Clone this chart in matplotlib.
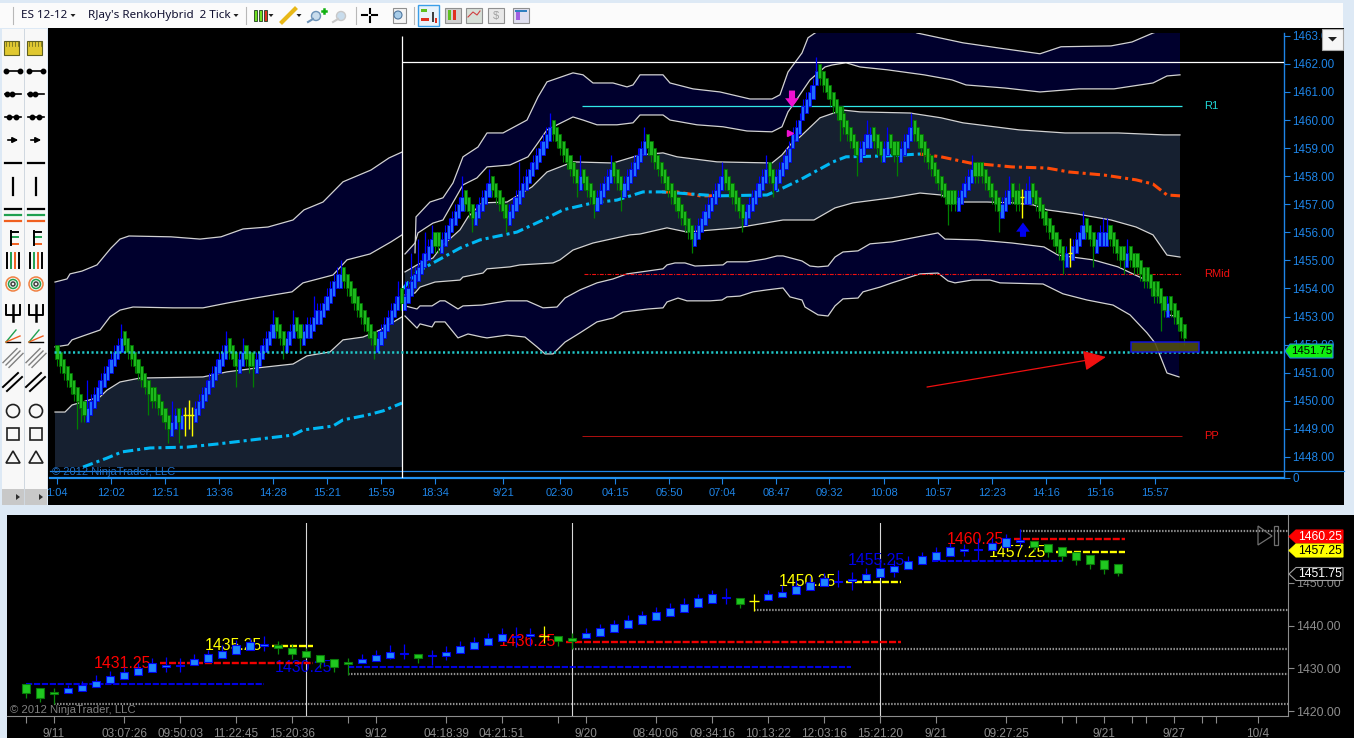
import matplotlib
matplotlib.use("Agg")
import matplotlib.pyplot as plt
from matplotlib.patches import Rectangle, Polygon, Circle
import numpy as np

# ---------- main chart data (renko-hybrid closes, one per bar) ----------
closes = [
 1451.5,1451.25,1451,1450.75,1450.5,1450.25,1450,1449.75,1449.5,
 1449.75,1450,1450.25,1450.5,1450.75,1451,1451.25,1451.5,1451.75,1452,1452.25,
 1452,1451.75,1451.5,1451.25,1451,1450.75,1450.5,1450.25,1450,1450,1449.75,1449.5,1449.25,1449,
 1449.25,1449.5,1449.25,1449.5,1449.5,1449.5,1449.5,
 1449.75,1450,1450.25,1450.5,1450.75,1451,1451.25,1451.5,1451.75,1452,
 1451.75,1451.5,1451.25,1451.5,1451.75,1451.5,1451.25,1451.25,
 1451.5,1451.75,1452,1452.25,1452.5,1452.75,1452.5,1452.25,1452,
 1452.25,1452.5,1452.75,1452.5,1452.25,
 1452.5,1452.75,1452.75,1453,1453.25,1453.25,1453.5,1453.75,1454,1454.25,1454.5,1454.5,
 1454.25,1454,1453.75,1453.5,1453.25,1453,1452.75,1452.5,1452.25,1452,
 1452.25,1452.5,1452.75,1453,1453.25,1453.5,1453.75,1453.5,
 1453.75,1454,1454.25,1454.5,1454.75,1455,1455.25,1455.5,1455.75,1455.5,1455.5,
 1455.75,1456,1456.25,1456.5,1456.75,1457,1457.25,1457,1456.75,1456.5,
 1456.75,1457,1457.25,1457.5,1457.75,1457.5,1457.25,1457,1456.75,1456.5,
 1456.75,1457,1457.25,1457.5,1457.75,1458,1458.25,1458.5,1458.75,1459,1459.25,1459.5,1459.75,
 1459.5,1459.25,1459,1458.75,1458.5,1458.25,1458,1457.75,1458,
 1457.75,1457.5,1457.25,1457,1457.25,1457.5,1457.75,1458,1458.25,1458,1457.75,1457.5,
 1457.75,1458,1458.25,1458.5,1458.75,1459,1459.25,
 1459,1458.75,1458.5,1458.25,1458,1457.75,1457.5,1457.25,1457,1456.75,1456.5,1456.25,1456,1455.75,
 1456,1456.25,1456.5,1456.75,1457,1457.25,1457.5,1457.75,1458,
 1457.75,1457.5,1457.25,1457,1456.75,1456.5,
 1456.75,1457,1457.25,1457.5,1457.75,1458,1458.25,1458,1457.75,
 1458,1458.25,1458.5,1458.75,1459,1459.5,1459.75,1460,1460.5,1460.75,1461,1461.25,1461.75,
 1461.5,1461.25,1461,1460.75,1460.5,1460.25,1460,1459.75,1459.5,1459.25,1459,1458.75,
 1459,1459.25,1459.5,1459.5,1459.25,1459,1458.75,1459,1459.25,1459,1458.75,1458.75,
 1459,1459.25,1459.5,1459.75,
 1459.5,1459.25,1459,1458.75,1458.5,1458.25,1458,1457.75,1457.5,1457.25,1457,1457,1457,
 1457.25,1457.5,1457.75,1458,1458.25,
 1458,1458,1458,1457.75,1457.5,1457.25,1457,1456.75,
 1457,1457.25,1457.5,1457.25,1457,1457,1457.25,1457.5,1457.5,
 1457.25,1457,1456.75,1456.5,1456.25,1456,1455.75,1455.5,1455.25,1455,
 1455.25,1455.25,1455.5,1455.75,1456,1456.25,1456,1455.75,1455.5,
 1455.75,1456,1456,1456,1455.75,1455.5,1455.25,1455,1455,1455.25,
 1455,1454.75,1454.75,1454.5,1454.25,1454.25,1454,1453.75,1453.75,1453.5,1453.25,
 1453.5,1453.25,1453,1452.75,1452.5,1452.25,
]
up_wick_bar = [9,19,34,50,55,64,70,76,84,101,103,105,107,109,111,120,128,137,146,155,164,174,197,210,225,240,246,253,271,282,288,304,310,311,317,329]
up_wick_price = [1450.75,1452.75,1450,1452.5,1452.25,1453.25,1453.25,1453.75,1455,1454.25,1454.25,1455.25,1455.75,1456,1456.25,1458,1458.25,1458.5,1460.25,1458.75,1458.75,1459.75,1458.5,1458.75,1462.25,1460,1459.75,1460.25,1458.75,1458,1458,1456.75,1456.5,1456.5,1455.75,1453.75]
down_low_bar = [6,7,27,33,36,53,58,67,72,94,102,123,133,154,159,167,188,203,212,232,237,249,264,279,298,307,316,327]
down_low_price = [1449,1449.25,1449.5,1448.5,1448.5,1450.5,1450.5,1451.5,1451.75,1451.5,1453.25,1456,1456,1457.25,1456.5,1456.75,1455.25,1456,1457.25,1459.25,1458,1458,1456.25,1456,1454.5,1454.75,1454.5,1452.5]
down_high_bar = [28,233,274,285,323]
down_high_price = [1450.5,1460.5,1458.5,1457.75,1454.75]
doji_bar = [38,39,40,286,300]
doji_high = [1449.78,1450.03,1449.78,1457.55,1455.8]
doji_low = [1448.75,1449.0,1448.75,1456.5,1454.75]

# session 1 bands
s1a_x = [55,67,70,82,97,107,111,120,129,171,200,221,243,268,293,304,323,343,371,389,402]
s1a_y = [1454.23,1454.34,1454.52,1454.62,1454.84,1455.27,1455.44,1455.76,1455.87,1455.84,1455.76,1455.84,1456.12,1456.19,1456.44,1456.80,1457.08,1457.80,1458.22,1458.65,1458.86]
s1b_x = [55,68,72,83,100,110,120,133,173,203,227,250,292,303,333,347,370,391,402]
s1b_y = [1451.92,1451.99,1452.17,1452.31,1452.52,1452.99,1453.23,1453.34,1453.31,1453.31,1453.48,1453.63,1453.88,1454.20,1454.48,1455.02,1455.23,1455.66,1455.91]
s1c_x = [55,65,72,100,107,120,140,203,227,257,293,307,330,343,363,380,402]
s1c_y = [1449.60,1449.60,1449.85,1450.14,1450.38,1450.67,1450.81,1450.85,1451.03,1451.17,1451.31,1451.60,1451.74,1452.17,1452.27,1452.52,1452.99]
s1_floor = 1447.64
s1v_x = [83,107,122,150,187,217,267,293,303,333,343,367,383,402]
s1v_y = [1447.64,1447.96,1448.18,1448.32,1448.35,1448.46,1448.67,1448.78,1448.96,1449.10,1449.32,1449.49,1449.64,1449.92]

# session 2 bands
a_x = [415,416,430,443,453,463,478,487,503,527,538,547,573,583,593,613,627,633,640,663,670,693,720,750,772,780,788,802,808,815,830,900,917,963,998,1040,1061,1111,1132,1153,1180]
a_y = [1455.27,1456.55,1457.08,1457.23,1457.76,1458.69,1459.04,1459.54,1459.54,1460.00,1460.82,1461.36,1461.68,1461.61,1461.32,1461.32,1461.18,1461.25,1461.61,1461.61,1461.32,1461.11,1461.00,1460.75,1460.75,1460.90,1461.71,1462.39,1462.93,1463.10,1463.39,1463.39,1463.10,1462.75,1462.57,1462.36,1462.61,1462.64,1462.78,1463.10,1463.39]
b_x = [405,415,418,433,443,463,477,487,510,528,538,547,573,583,597,617,633,640,663,670,697,723,747,772,782,788,793,810,825,832,846,860,887,924,952,966,1005,1040,1079,1114,1153,1167,1180]
b_y = [1455.23,1455.62,1455.98,1456.33,1456.44,1457.69,1457.94,1458.33,1458.40,1458.69,1459.19,1459.65,1460.11,1460.00,1459.83,1459.83,1459.90,1460.18,1460.18,1460.00,1459.83,1459.76,1459.61,1459.58,1459.76,1460.29,1460.54,1461.43,1461.89,1461.96,1462.04,1461.89,1461.79,1461.61,1461.43,1461.25,1461.14,1461.00,1461.11,1461.11,1461.32,1461.57,1461.61]
c_x = [405,417,433,443,460,468,482,507,532,547,573,613,640,663,677,717,772,782,792,800,820,837,842,860,910,941,963,1019,1065,1118,1164,1180]
c_y = [1454.59,1454.84,1455.09,1455.55,1456.09,1456.55,1457.05,1457.08,1457.62,1458.15,1458.51,1458.47,1458.76,1458.83,1458.69,1458.51,1458.47,1458.76,1459.19,1459.40,1460.08,1460.29,1460.36,1460.29,1460.25,1460.08,1459.90,1459.65,1459.54,1459.54,1459.47,1459.47]
d_x = [405,415,420,435,460,463,483,487,510,520,553,560,573,593,607,630,640,667,687,737,783,814,835,853,892,920,941,955,987,1012,1033,1047,1076,1111,1136,1153,1167,1180]
d_y = [1453.77,1453.84,1454.05,1454.23,1454.30,1454.41,1454.55,1454.70,1454.77,1454.84,1454.91,1455.02,1455.37,1455.62,1455.73,1455.91,1455.94,1456.16,1456.01,1456.16,1456.44,1456.44,1456.87,1457.05,1457.23,1457.40,1457.33,1457.08,1457.08,1457.05,1456.98,1456.80,1456.66,1456.44,1456.19,1455.91,1455.19,1455.12]
e_x = [405,417,420,432,440,445,458,463,482,507,527,543,557,565,580,597,613,627,647,663,667,675,685,695,723,727,747,765,777,783,802,810,818,828,835,843,858,870,892,938,945,977,1012,1044,1058,1093,1118,1152,1163,1168,1179]
e_y = [1453.38,1453.27,1453.38,1453.38,1453.56,1453.56,1453.27,1453.38,1453.41,1453.56,1453.56,1453.31,1453.34,1453.66,1453.95,1454.20,1454.34,1454.52,1454.62,1454.70,1454.84,1454.91,1454.91,1454.80,1454.84,1454.95,1454.95,1455.05,1455.16,1455.16,1454.98,1454.80,1454.77,1454.80,1455.12,1455.30,1455.34,1455.59,1455.66,1455.98,1455.76,1455.73,1455.62,1455.48,1455.19,1455.02,1454.77,1454.20,1453.48,1453.06,1452.99]
f_x = [405,417,420,432,435,445,458,468,482,487,507,525,537,545,553,565,580,597,613,623,648,663,667,678,687,710,722,727,740,753,767,783,790,802,805,818,828,835,843,858,863,880,892,920,938,948,955,972,990,1000,1043,1063,1087,1113,1130,1147,1155,1167,1179]
f_y = [1453.02,1452.59,1452.74,1452.63,1452.81,1452.81,1452.24,1452.38,1452.27,1452.24,1452.34,1452.27,1451.92,1451.67,1451.67,1452.09,1452.42,1452.81,1452.95,1453.16,1453.27,1453.31,1453.52,1453.66,1453.56,1453.56,1453.59,1453.70,1453.73,1453.88,1453.95,1454.02,1453.70,1453.59,1453.34,1453.06,1453.02,1453.38,1453.63,1453.66,1453.88,1454.05,1454.20,1454.52,1454.55,1454.27,1454.20,1454.30,1454.30,1454.20,1454.16,1453.81,1453.59,1453.41,1453.06,1452.42,1452.06,1450.99,1450.85]
v_x = [402,417,433,460,480,517,543,563,593,617,643,662,717,767,783,800,833,846,885,920]
v_y = [1453.95,1454.59,1454.91,1455.44,1455.73,1456.01,1456.44,1456.80,1457.05,1457.15,1457.44,1457.44,1457.30,1457.33,1457.58,1457.87,1458.51,1458.69,1458.72,1458.79]
o1_x = [662,677,700,716]
o1_y = [1457.44,1457.44,1457.30,1457.30]
o2_x = [920,941,970,1012,1047,1069,1104,1136,1153,1167,1180]
o2_y = [1458.79,1458.69,1458.47,1458.33,1458.29,1458.15,1458.04,1457.87,1457.72,1457.33,1457.30]

main_ticks = [57,111,165,219,273,327,381,435,503,560,615,669,722,776,829,884,938,992,1046,1100,1155]
main_labels = ["1:04","12:02","12:51","13:36","14:28","15:21","15:59","18:34","9/21","02:30","04:15","05:50","07:04","08:47","09:32","10:08","10:57","12:23","14:16","15:16","15:57"]
price_ticks = list(range(1448, 1464))
last_price = 1451.75
r1, rmid, pp = 1460.5, 1454.5, 1448.75
session_high = 1462.07

# ---------- lower chart data ----------
c_open = [1426.26,1425.32,1424.38,1424.15,1424.69,1425.55,1426.49,1427.43,1428.36,1429.15,1430.24,1430.47,1430.78,1431.41,1432.35,1433.28,1434.22,1435.31,1435.39,1434.85,1434.14,1433.13,1432.27,1431.41,1431.17,1431.64,1432.35,1433.28,1433.44,1432.82,1432.82,1433.52,1434.46,1435.39,1436.33,1437.27,1437.50,1437.81,1437.66,1437.03,
 1437.03,1437.50,1438.44,1439.38,1440.31,1441.25,1442.34,1443.28,1444.30,1445.23,1446.41,1446.41,1445.94,1445.94,1446.64,1447.34,1448.28,1449.37,1450.15,1450.39,1450.62,1451.32,1452.50,1453.20,1454.37,1455.31,1456.25,1457.42,1457.65,1457.65,1458.51,1459.60,1459.84,1459.06,1458.35,1457.34,1456.48,1455.31,1454.37]
c_close = [1424.30,1423.13,1423.91,1425.32,1426.10,1427.11,1428.29,1429.22,1430.00,1431.33,1430.71,1430.86,1432.19,1433.28,1434.14,1435.47,1436.25,1435.63,1434.69,1433.28,1432.58,1431.41,1430.24,1430.94,1432.27,1433.21,1433.91,1433.60,1432.35,1433.13,1433.91,1435.31,1436.25,1437.19,1438.13,1437.66,1437.97,1437.66,1436.33,1436.49,
 1438.20,1439.38,1440.31,1441.25,1442.50,1443.28,1444.22,1445.16,1446.41,1447.34,1446.72,1445.16,1445.78,1447.34,1447.97,1449.37,1450.31,1451.09,1450.54,1450.86,1452.18,1453.43,1453.90,1455.23,1456.25,1457.34,1458.35,1457.89,1457.96,1459.29,1460.46,1459.99,1458.51,1457.34,1456.40,1455.46,1454.37,1453.36,1452.42]
c_high = [1426.26,1425.32,1425.32,1426.10,1427.11,1428.44,1429.38,1430.40,1431.17,1432.35,1432.58,1432.35,1433.36,1434.30,1435.47,1436.64,1437.03,1437.58,1436.49,1435.63,1434.69,1433.13,1432.27,1432.35,1433.28,1434.30,1435.47,1435.63,1433.44,1434.30,1435.31,1436.41,1437.42,1438.36,1439.53,1439.77,1439.53,1439.92,1437.66,1438.20,
 1439.38,1440.39,1441.33,1442.50,1443.52,1444.45,1445.23,1446.41,1447.42,1448.28,1448.83,1446.41,1447.42,1448.36,1449.53,1450.70,1451.72,1452.26,1453.04,1452.65,1453.43,1454.84,1455.39,1456.40,1457.18,1458.35,1459.45,1459.06,1460.46,1460.46,1461.48,1462.65,1459.84,1459.06,1458.35,1457.34,1456.48,1455.31,1454.37]
c_low = [1423.13,1422.20,1421.57,1424.15,1424.69,1425.55,1426.49,1427.43,1428.36,1429.15,1429.22,1429.07,1430.78,1431.41,1432.35,1433.28,1434.22,1434.07,1433.28,1432.19,1432.35,1430.16,1429.22,1428.44,1431.17,1431.64,1432.11,1432.19,1431.33,1430.78,1432.03,1433.52,1434.46,1435.39,1436.33,1435.08,1435.31,1435.86,1435.31,1434.46,
 1437.03,1437.50,1438.44,1439.38,1440.31,1441.25,1442.34,1443.28,1444.30,1445.23,1445.16,1444.22,1443.44,1445.94,1446.64,1447.34,1448.28,1449.37,1449.14,1448.36,1450.62,1451.32,1451.48,1453.20,1454.37,1455.31,1456.25,1456.40,1455.39,1457.65,1458.51,1458.51,1457.50,1456.17,1455.15,1454.22,1453.28,1452.03,1451.64]
yellow_candles = [37, 52]

dotted_start = [2, 23, 39, 52, 71]
dotted_price = [1421.57, 1428.6, 1434.45, 1443.6, 1462.3]
blue_start, blue_end, blue_price = [0,23,64.7], [17,58.9,74], [1426.25,1430.25,1455.25]
red_start, red_end, red_price = [9.6,38.6,70.6], [20.5,62.5,78.5], [1431.25,1436.25,1460.25]
yel_start, yel_end, yel_price = [17.6,58.6,73.6], [20.5,62.5,78.5], [1435.25,1450.25,1457.25]
label_text = ["1431.25","1435.25","1430.25","1436.25","1450.25","1455.25","1460.25","1457.25"]
label_at = [6.9,14.8,19.8,35.8,55.8,60.7,67.8,70.8]
label_colour = ["#ff0000","#ffff00","#0000e6","#ff0000","#ffff00","#0000e6","#ff0000","#ffff00"]
session_breaks = [20, 39, 61]
lower_ticks = [0,2,7,11,15,19,23,25,30,34,38,40,45,49,53,57,61,65,70,74,75,77,79,80,82,84,85,88]
lower_labels = ["","9/11","03:07:26","09:50:03","11:22:45","15:20:36","","9/12","04:18:39","04:21:51","","9/20","08:40:06","09:34:16","10:13:22","12:03:16","15:21:20","9/21","09:27:25","","","9/21","","","9/27","","","10/4"]
lower_price_ticks = [1420,1430,1440,1450]

# ---------- figure ----------
plt.rcParams['font.family'] = ['Liberation Sans', 'DejaVu Sans']
W, H = 1354, 738
fig = plt.figure(figsize=(W/100, H/100), dpi=100, facecolor='#dde9f5')

def box(x0, x1, y_top, y_bot):
    return [x0/W, 1-y_bot/H, (x1-x0)/W, (y_bot-y_top)/H]

ui = fig.add_axes([0,0,1,1], zorder=0); ui.set_xlim(0,W); ui.set_ylim(H,0); ui.axis('off')
top = fig.add_axes([0,0,1,1], zorder=5); top.set_xlim(0,W); top.set_ylim(H,0); top.axis('off'); top.patch.set_alpha(0)

def rect(a, x, y, w, h, fc, ec='none', lw=0.8, z=1, alpha=None):
    a.add_patch(Rectangle((x,y), w, h, fc=fc, ec=ec, lw=lw, zorder=z, alpha=alpha))

rect(ui, 0, 3, 1343, 25, '#fbfbfb')
rect(ui, 48, 28, 1296, 477, '#000000')
rect(ui, 7, 515, 1347, 223, '#000000')

# top toolbar
ui.text(21, 15.5, "ES 12-12", fontsize=8.4, color='#101030', va='center', family='Noto Sans')
ui.text(88, 15.5, "RJay's RenkoHybrid  2 Tick", fontsize=8.4, color='#101030', va='center', family='Noto Sans')
for ax_ in [73, 236, 271, 299, 397]:
    ui.add_patch(Polygon([(ax_-2.5,14),(ax_+2.5,14),(ax_,17)], fc='#202020'))
for sx in [13, 246, 356, 414]:
    ui.plot([sx,sx],[7,24], color='#b8b8b8', lw=0.8)
for sx, c_ in [(255,'#70e020'),(260,'#70e020'),(265,'#e03020')]:
    rect(ui, sx-1.5, 10, 3.5, 11, c_, '#204020', 0.6)
ui.plot([282,295],[22,9], color='#e8b818', lw=3)
for cx, c_ in [(316,'#6d93b8'),(341,'#c8c8c8')]:
    ui.add_patch(Circle((cx,16), 4.5, fc='#c8dcec', ec=c_, lw=1))
    ui.plot([cx-8,cx-3],[22,19], color=c_, lw=1.5)
ui.plot([322,326],[11,11], color='#10b010', lw=1.8); ui.plot([324,324],[9,13], color='#10b010', lw=1.8)
ui.plot([362,367],[15,15],[369.5,369.5],[9,13],[372,377],[15,15],[369.5,369.5],[17,22], color='#000000', lw=1.5)
rect(ui, 393, 8, 13, 15, '#f4f4f4', '#909090')
ui.add_patch(Circle((398,15), 4, fc='#a8cce8', ec='#5078a0', lw=0.8))
rect(ui, 418, 5, 21, 21, '#e8f2fa', '#3a9ee8', 1)
for (x_,y_,w_,c_) in [(421,9,6,'#60c020'),(421,18,8,'#e03020')]:
    rect(ui, x_, y_, w_, 3, c_, z=2)
rect(ui, 432, 12, 2, 10, '#404040', z=2); rect(ui, 435, 18, 2, 5, '#e03020', z=2)
for (x_,c_) in [(445,'#d0d0d0'),(466,'#d8e0d8'),(488,'#e8e8e8'),(513,'#e0e0f0')]:
    rect(ui, x_, 8, 16, 15, c_, '#909090', 0.8)
rect(ui, 448, 10, 3, 10, '#60c020', z=2); rect(ui, 453, 10, 3, 10, '#e03020', z=2)
ui.plot([468,473,477,480],[17,12,15,11], color='#d04040', lw=0.8, zorder=2)
ui.text(496, 16, "$", fontsize=8, color='#a0a0a0', ha='center', va='center')
rect(ui, 516, 12, 4, 8, '#a060e0', z=2); rect(ui, 515, 10, 12, 1.5, '#3080c0', z=2)

# drawing-tool side bars
for col in [2, 25]:
    rect(ui, col, 29, 22, 476, '#f8f8f8')
    rect(ui, col, 489, 22, 16, '#c8c8c8')
    cx = col + 11
    rect(ui, col+2, 41, 15, 14, '#e0c830', '#606020', 0.8, z=2)
    for tx in range(col+4, col+17, 3):
        ui.plot([tx,tx],[41,46], color='#606020', lw=0.5, zorder=3)
    for yy, kind in [(71,0),(94,1),(117,2)]:
        ui.plot([cx-8,cx+8],[yy,yy], color='k', lw=1.2, zorder=2)
        xs = {0:[cx-7,cx+7],1:[cx-6,cx-1],2:[cx-4,cx+3]}[kind]
        ui.plot(xs,[yy,yy],'o',color='k',ms=3.2,zorder=2)
    ui.annotate('', xy=(cx+8,140), xytext=(cx-8,140), arrowprops=dict(arrowstyle='-|>',color='k',lw=1.2,mutation_scale=8))
    ui.plot([cx-8,cx+8],[163,163], color='k', lw=1.6, zorder=2)
    ui.plot([cx,cx],[178,195], color='k', lw=1.6, zorder=2)
    for yy,c_ in [(209,'k'),(215,'#20a050'),(221,'#f06020')]:
        ui.plot([cx-8,cx+8],[yy,yy], color=c_, lw=1.6, zorder=2)
    for yy,c_ in [(232,'k'),(237,'#20a050'),(244,'#f06020')]:
        ui.plot([cx-2,cx+5],[yy,yy], color=c_, lw=1.4, zorder=2)
    ui.plot([cx-2,cx-2],[231,245], color='k', lw=1.4, zorder=2)
    for dx,c_ in [(-6,'k'),(-2,'#20a050'),(2,'#f06020'),(6,'k')]:
        ui.plot([cx+dx,cx+dx],[253,268], color=c_, lw=1.4, zorder=2)
    for r_,c_ in [(7,'#f08040'),(4.5,'#20a050'),(2,'#404040')]:
        ui.add_patch(Circle((cx,284), r_, fc='none', ec=c_, lw=1.1, zorder=2))
    ui.plot([cx-7,cx-7,cx+7,cx+7],[305,315,315,305], color='k', lw=1.4, zorder=2)
    ui.plot([cx,cx],[305,321], color='k', lw=1.8, zorder=2)
    ui.plot([cx-7,cx+7],[342,342], color='k', lw=1, zorder=2)
    ui.plot([cx-7,cx+3],[342,330], color='#20a050', lw=1, zorder=2)
    ui.plot([cx-7,cx+7],[342,336], color='#f06020', lw=1, zorder=2)
    for d in [-3,0,3]:
        ui.plot([cx-7+d,cx+7+d],[365+d*0.8,351+d*0.8], color='#808080', lw=1, zorder=2)
    for d in [-2,2]:
        ui.plot([cx-8+d,cx+7+d],[389+d,375+d], color='k', lw=1.4, zorder=2)
    ui.add_patch(Circle((cx,411), 6.5, fc='none', ec='#202020', lw=1.2, zorder=2))
    rect(ui, cx-6, 428, 12, 12, 'none', '#202020', 1.2, z=2)
    ui.add_patch(Polygon([(cx-7,463),(cx+7,463),(cx,451)], fc='none', ec='#202020', lw=1.2, zorder=2))
    ui.add_patch(Polygon([(cx+3,494),(cx+7,497),(cx+3,500)], fc='#303030', zorder=2))
rect(ui, 24, 29, 1, 476, '#d0d8e0')

# ---------- main price axes ----------
AXIS_BLUE = '#1e84e6'
ax = fig.add_axes(box(50, 1284, 33, 478), zorder=1, facecolor='none')
ax.set_xlim(50, 1284)
ax.set_ylim(1447.25, 1463.10)

NAVY, SLATE, LINE = '#00002d', '#162030', '#d2d2d2'
def band(xa, ya, xb, yb, col):
    ax.fill(list(xa)+list(xb)[::-1], list(ya)+list(yb)[::-1], color=col, lw=0, zorder=1)
band(s1a_x, s1a_y, s1b_x, s1b_y, NAVY)
band(s1c_x, s1c_y, [s1c_x[0], s1c_x[-1]], [s1_floor, s1_floor], SLATE)
band(a_x, a_y, b_x, b_y, NAVY)
band(c_x, c_y, d_x, d_y, SLATE)
band(e_x, e_y, f_x, f_y, NAVY)
for xs, ys in [(s1a_x,s1a_y),(s1b_x,s1b_y),(s1c_x,s1c_y),(a_x,a_y),(b_x,b_y),(c_x,c_y),(d_x,d_y),(e_x,e_y),(f_x,f_y)]:
    ax.plot(xs, ys, color=LINE, lw=0.9, zorder=2)

vwap_style = dict(lw=2.2, ls=(0,(3.4,1.3,1,1.3)), zorder=3)
ax.plot(o1_x, o1_y, color='#ff4a08', **vwap_style)
ax.plot(o2_x, o2_y, color='#ff4a08', **vwap_style)
ax.plot(s1v_x, s1v_y, color='#00b8f4', **vwap_style)
ax.plot(v_x, v_y, color='#00b8f4', **vwap_style)

ax.hlines(session_high, 402, 1284, color='white', lw=0.9, zorder=4)
ax.vlines(402, 1447.25, 1463.0, color='white', lw=0.9, zorder=6)
ax.hlines(r1, 582, 1182, color='#30e8e8', lw=0.9, zorder=4)
ax.hlines(rmid, 584, 1182, color='#f01010', lw=0.8, ls=(0,(3.5,1.2,1,1.2)), zorder=4)
ax.hlines(pp, 582, 1182, color='#b01010', lw=0.7, zorder=4)
ax.text(1204, r1, "R1", color='#20d8d8', fontsize=8, va='center')
ax.text(1204, rmid, "RMid", color='#f01010', fontsize=8, va='center')
ax.text(1204, pp, "PP", color='#f01010', fontsize=8, va='center')

# bars
step = 3.375
bar_x = 57 + step*np.arange(len(closes))
cl = np.array(closes, float)
direction = np.zeros(len(cl))
d_ = -1
for i in range(1, len(cl)):
    if cl[i] > cl[i-1]: d_ = 1
    elif cl[i] < cl[i-1]: d_ = -1
    direction[i] = d_
direction[0] = -1
is_up = direction > 0
is_doji = np.isin(np.arange(len(cl)), doji_bar)
body = 0.5
pad = 0.25
ups = is_up & ~is_doji
downs = ~is_up & ~is_doji
ax.vlines(bar_x[ups], cl[ups]-body, cl[ups]+pad, color='#0000ff', lw=0.8, zorder=5)
ax.vlines(bar_x[downs], cl[downs]-pad, cl[downs]+body, color='#008000', lw=0.8, zorder=5)
ub, dlb, dhb = np.array(up_wick_bar), np.array(down_low_bar), np.array(down_high_bar)
ax.vlines(bar_x[ub], cl[ub], up_wick_price, color='#0000ff', lw=0.9, zorder=5)
ax.vlines(bar_x[dlb], down_low_price, cl[dlb], color='#008000', lw=0.9, zorder=5)
ax.vlines(bar_x[dhb], cl[dhb], down_high_price, color='#008000', lw=0.9, zorder=5)
ax.bar(bar_x[ups], body, bottom=cl[ups]-body, width=3.2, color='#1e6eff', edgecolor='#0000e8', lw=0.6, zorder=6)
ax.bar(bar_x[downs], body, bottom=cl[downs], width=3.2, color='#1cb81c', edgecolor='#007000', lw=0.6, zorder=6)
db = np.array(doji_bar)
ax.vlines(bar_x[db], doji_low, doji_high, color='#ffff00', lw=1.0, zorder=7)
ax.hlines(cl[db], bar_x[db]-2, bar_x[db]+2, color='#ffff00', lw=1.0, zorder=7)

# last-price line, marked zone and drawing objects
ax.plot([54, 1284], [last_price, last_price], color='#20c8c8', lw=1.8, ls=(0,(0.85,1.0)), zorder=7)
ax.add_patch(Rectangle((1131, last_price), 68, 0.34, fc='#504c10', ec='#1010f0', lw=1.1, alpha=0.9, zorder=8))
ax.annotate('', xy=(1106, 1451.56), xytext=(927, 1450.49),
            arrowprops=dict(arrowstyle='-|>,head_width=0.45,head_length=1.0', color='#f01010', lw=0.9, mutation_scale=14, shrinkA=0, shrinkB=0), zorder=8)
ax.annotate('', xy=(792, 1460.45), xytext=(792, 1461.05),
            arrowprops=dict(arrowstyle='simple,head_width=0.9,tail_width=0.4,head_length=0.6', color='#f010d0', mutation_scale=11, shrinkA=0, shrinkB=0, lw=0), zorder=8)
ax.annotate('', xy=(1023, 1456.35), xytext=(1023, 1455.84),
            arrowprops=dict(arrowstyle='simple,head_width=0.9,tail_width=0.4,head_length=0.6', color='#0000f0', mutation_scale=11, shrinkA=0, shrinkB=0, lw=0), zorder=8)
ax.plot([789.5], [1459.55], marker='>', color='#f010d0', ms=4.5, zorder=8)

ax.set_xticks(main_ticks); ax.set_xticklabels(main_labels)
ax.set_yticks(price_ticks + [1447.25])
ax.set_yticklabels([f"{p:.2f}" for p in price_ticks] + ["0"])
ax.yaxis.tick_right()
ax.tick_params(axis='x', colors=AXIS_BLUE, length=4, width=0.8, labelsize=8.0, pad=3)
ax.tick_params(axis='y', colors=AXIS_BLUE, length=4.5, width=0.8, labelsize=8.4, pad=1.5)
for s_ in ['top','left']:
    ax.spines[s_].set_visible(False)
ax.spines['right'].set_color(AXIS_BLUE); ax.spines['right'].set_linewidth(1)
ax.spines['bottom'].set_color('#2090f0'); ax.spines['bottom'].set_linewidth(1.6)

ui.plot([50, 1344],[471,471], color=AXIS_BLUE, lw=0.9, zorder=3)
top.text(52, 472, "© 2012 NinjaTrader, LLC", color='#2070c8', fontsize=8, va='center', zorder=3)
top.add_patch(Polygon([(1285,351),(1290,344),(1333,344),(1333,358),(1290,358)], fc='#10f010', ec=AXIS_BLUE, lw=0.8, zorder=6))
top.text(1312, 351.5, f"{last_price:.2f}", color='k', fontsize=8.2, ha='center', va='center', zorder=7)
rect(top, 1322, 29, 21, 21, '#f6f6f6', '#a8a8a8', 0.8, z=8)
top.add_patch(Polygon([(1328,37),(1337,37),(1332.5,41.5)], fc='#202020', zorder=9))

# ---------- lower daily axes ----------
GREY = '#8c8c8c'
low = fig.add_axes(box(7, 1288, 523, 716), zorder=1, facecolor='none')
low.set_xlim(-1.357, 90.14)
low.set_ylim(1418.83, 1464.06)
idx = np.arange(len(c_open))
o_, c_, h_, l_ = map(lambda v: np.array(v, float), (c_open, c_close, c_high, c_low))

for s_, p_ in zip(dotted_start, dotted_price):
    low.plot([s_, 90.14], [p_, p_], color='#909090', lw=1.6, ls=(0,(0.68,0.68)), zorder=1)
for xb in session_breaks:
    low.axvline(xb, color='#d8d8d8', lw=0.8, zorder=1)
for t_, a_, p_, col_ in zip(label_text, label_at, [float(t) for t in label_text], label_colour):
    low.text(a_, p_, t_, color=col_, fontsize=11.4, ha='center', va='center', zorder=2)
for st, en, pr, col_, lw_ in [(blue_start,blue_end,blue_price,'#0000e0',1.5),(red_start,red_end,red_price,'#f00000',1.7),(yel_start,yel_end,yel_price,'#ffff00',1.7)]:
    for a_, b_, p_ in zip(st, en, pr):
        low.plot([a_, b_], [p_, p_], color=col_, lw=lw_, ls=(0,(3.0,0.8)), zorder=3)

yellow = np.isin(idx, yellow_candles)
up = (c_ >= o_) & ~yellow
down = (c_ < o_) & ~yellow
low.vlines(idx[up], l_[up], h_[up], color='#0000ff', lw=0.9, zorder=4)
low.vlines(idx[down], l_[down], h_[down], color='#0a8a0a', lw=0.9, zorder=4)
low.vlines(idx[yellow], l_[yellow], h_[yellow], color='#ffff00', lw=0.9, zorder=4)
low.bar(idx[up], (c_-o_)[up], bottom=o_[up], width=0.62, color='#1e88ff', edgecolor='#0000f0', lw=0.8, zorder=5)
low.bar(idx[down], (o_-c_)[down], bottom=c_[down], width=0.62, color='#20c820', edgecolor='#0a7a0a', lw=0.8, zorder=5)
low.hlines(c_[yellow], idx[yellow]-0.35, idx[yellow]+0.35, color='#ffff00', lw=1, zorder=5)

low.set_xticks(lower_ticks); low.set_xticklabels(lower_labels)
low.set_yticks(lower_price_ticks); low.set_yticklabels([f"{p:.2f}" for p in lower_price_ticks])
low.yaxis.tick_right()
low.tick_params(axis='x', colors=GREY, length=5, width=0.8, labelsize=8.5, pad=3.5)
low.tick_params(axis='y', colors=GREY, length=4, width=0.8, labelsize=8.9, pad=1.5)
for s_ in ['top','left']:
    low.spines[s_].set_visible(False)
low.spines['right'].set_color(GREY); low.spines['bottom'].set_color(GREY)
low.spines['right'].set_bounds(1418.83, 1466); low.spines['right'].set_clip_on(False)

top.text(10, 710, "© 2012 NinjaTrader, LLC", color='#808080', fontsize=8.2, va='center')
top.add_patch(Polygon([(1258,526),(1272,536),(1258,545)], fc='none', ec='#707070', lw=0.9))
rect(top, 1274, 526, 4, 19, 'none', '#707070', 0.9)
for y0, fc_, ec_, tc, val in [(530,'#ff0000','#ff0000','white',1460.25),(544,'#ffff00','#ffff00','black',1457.25),(567.5,'black','#a0a0a0','white',1451.75)]:
    top.add_patch(Polygon([(1289,y0+6.5),(1296,y0),(1343,y0),(1343,y0+13),(1296,y0+13)], fc=fc_, ec=ec_, lw=0.8, zorder=6))
    top.text(1320, y0+6.8, f"{val:.2f}", color=tc, fontsize=8.8, ha='center', va='center', zorder=7)

fig.savefig("out.png", dpi=100, facecolor=fig.get_facecolor())
